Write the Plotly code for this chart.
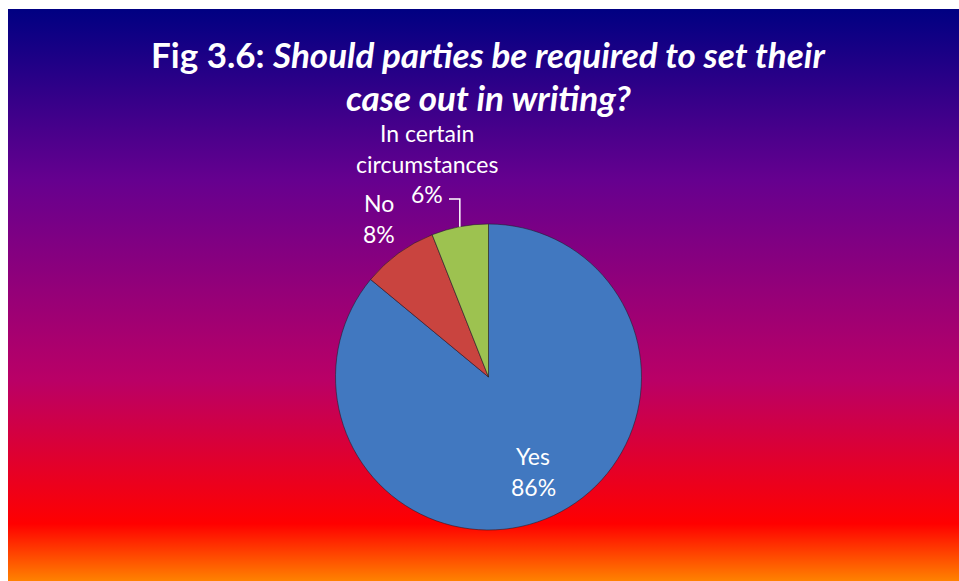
import base64
import math
import plotly.graph_objects as go

# Survey responses
categories = ["Yes", "No", "In certain circumstances"]
label_lines = [["Yes"], ["No"], ["In certain", "circumstances"]]
values = [86, 8, 6]
colors = ["#4178C0", "#C9443F", "#9DC250"]

W, H = 959, 581
FONT = "Lato"

# Chart frame (pixels) and pie geometry (pixels)
frame = dict(x0=8, y0=9, x1=959, y1=581)
cx, cy, r = 488.5, 377, 153

# Vertical sunset gradient behind the chart
stops = [(0.0, "#000082"), (0.30, "#66008F"), (0.65, "#BA0066"),
         (0.90, "#FF0000"), (1.0, "#FF8200")]
stop_xml = "".join(f'<stop offset="{o}" stop-color="{c}"/>' for o, c in stops)
svg = (
    '<svg xmlns="http://www.w3.org/2000/svg" width="100" height="100" '
    'preserveAspectRatio="none" viewBox="0 0 100 100">'
    f'<defs><linearGradient id="g" x1="0" y1="0" x2="0" y2="1">{stop_xml}'
    '</linearGradient></defs><rect width="100" height="100" fill="url(#g)"/></svg>'
)
bg_src = "data:image/svg+xml;base64," + base64.b64encode(svg.encode()).decode()


def px(x):
    return x / W


def py(y):
    return 1 - y / H


fig = go.Figure(
    go.Pie(
        labels=categories,
        values=values,
        sort=False,
        direction="clockwise",
        rotation=0,
        marker=dict(colors=colors, line=dict(color="rgba(30,30,40,0.55)", width=1)),
        textinfo="none",
        hoverinfo="label+percent",
        showlegend=False,
        domain=dict(x=[px(cx - r), px(cx + r)], y=[py(cy + r), py(cy - r)]),
    )
)

annotations = []
shapes = []

# Title
title_lines = [
    "<b>Fig 3.6: <i>Should parties be required to set their</i></b>",
    "<b><i>case out in writing?</i></b>",
]
for line, y in zip(title_lines, [54, 97]):
    annotations.append(dict(
        x=px(488), y=py(y), xref="paper", yref="paper", text=line,
        showarrow=False, xanchor="center", yanchor="middle",
        font=dict(family=FONT, size=35, color="white"),
    ))

# Data labels: each line placed individually
label_pos = {
    "Yes": (533, 456),
    "No": (379, 203),
    "In certain circumstances": (427, 133),
}
line_gap = 30.5
total = sum(values)
for cat, lines, v in zip(categories, label_lines, values):
    x0, y0 = label_pos[cat]
    texts = lines + [f"{round(100 * v / total)}%"]
    for i, t in enumerate(texts):
        annotations.append(dict(
            x=px(x0), y=py(y0 + i * line_gap), xref="paper", yref="paper",
            text=t, showarrow=False, xanchor="center", yanchor="middle",
            font=dict(family=FONT, size=23, color="white"),
        ))

# Leader line for the smallest slice, ending at its mid-angle on the rim
start = sum(values[:2]) / total
mid = (start + values[2] / total / 2) * 2 * math.pi
ex, ey = cx + r * math.sin(mid), cy - r * math.cos(mid)
lx, ly = 449, 199
shapes.append(dict(
    type="path", xref="paper", yref="paper",
    path=f"M {px(lx)},{py(ly)} L {px(ex)},{py(ly)} L {px(ex)},{py(ey)}",
    line=dict(color="white", width=1.5),
))

fig.update_layout(
    width=W, height=H,
    margin=dict(l=0, r=0, t=0, b=0),
    paper_bgcolor="white",
    plot_bgcolor="white",
    images=[dict(
        source=bg_src, xref="paper", yref="paper",
        x=px(frame["x0"]), y=py(frame["y0"]),
        sizex=(frame["x1"] - frame["x0"]) / W, sizey=(frame["y1"] - frame["y0"]) / H,
        xanchor="left", yanchor="top", sizing="stretch", layer="below",
    )],
    annotations=annotations,
    shapes=shapes,
)

fig.write_html("out.html")
